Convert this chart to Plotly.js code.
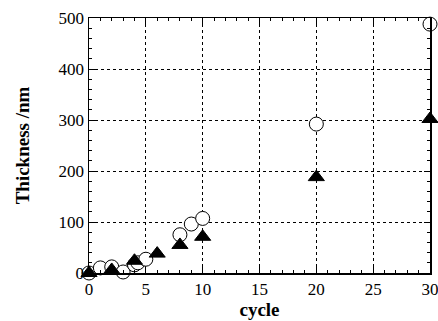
<!DOCTYPE html>
<html><head><meta charset="utf-8">
<script src="https://cdn.plot.ly/plotly-3.0.1.min.js"></script>
<style>html,body{margin:0;padding:0;background:#fff}#c{width:438px;height:321px}</style>
</head><body><div id="c"></div>
<script>
const circleCycles = [0, 1, 2, 3, 4, 4.3, 5, 8, 9, 10, 20, 30];
const circleThickness = [0, 10, 12, 2, 16, 20, 27, 75, 96, 107, 292, 488];
const triangleCycles = [0, 2, 4, 6, 8, 10, 20, 30];
const triangleThickness = [0, 6, 24, 38, 55, 71, 188, 302];
const xTicks = [0, 5, 10, 15, 20, 25, 30];
const yTicks = [0, 100, 200, 300, 400, 500];

const serif = 'Liberation Serif';
const traces = [
  {x: circleCycles, y: circleThickness, mode: 'markers', type: 'scatter', cliponaxis: false,
   marker: {symbol: 'circle', size: 14, color: '#fff', line: {color: '#000', width: 1}}},
  {x: triangleCycles, y: triangleThickness, mode: 'markers', type: 'scatter', cliponaxis: false,
   marker: {symbol: 'triangle-up', size: 14, color: '#000', line: {color: '#000', width: 1}}}
];
const axisCommon = {
  showline: true, linecolor: '#000', linewidth: 1.5, mirror: 'ticks',
  ticks: 'inside', ticklen: 6, tickcolor: '#000', tickwidth: 1,
  showgrid: true, gridcolor: '#000', griddash: 'dot', gridwidth: 1,
  zeroline: false, ticklabeloverflow: 'allow',
  tickfont: {family: serif, size: 17, color: '#000'}
};
const layout = {
  width: 438, height: 321, showlegend: false,
  font: {family: serif, color: '#000', size: 17},
  paper_bgcolor: '#fff', plot_bgcolor: '#fff',
  margin: {l: 89, r: 8, t: 18, b: 48},
  xaxis: Object.assign({}, axisCommon, {range: [0, 30], tickvals: xTicks, ticktext: xTicks.map(String),
    minor: {dtick: 1, ticks: 'inside', ticklen: 3, tickcolor: '#000', showgrid: false},
    title: {text: 'cycle', standoff: 4, font: {family: serif, size: 19, color: '#000', weight: 'bold'}}}),
  yaxis: Object.assign({}, axisCommon, {range: [0, 500], tickvals: yTicks, ticktext: yTicks.map(String),
    minor: {dtick: 20, ticks: 'inside', ticklen: 3, tickcolor: '#000', showgrid: false},
    title: {text: 'Thickness /nm', standoff: 24, font: {family: serif, size: 19, color: '#000', weight: 'bold'}}})
};
Plotly.newPlot('c', traces, layout, {staticPlot: true});
</script></body></html>
